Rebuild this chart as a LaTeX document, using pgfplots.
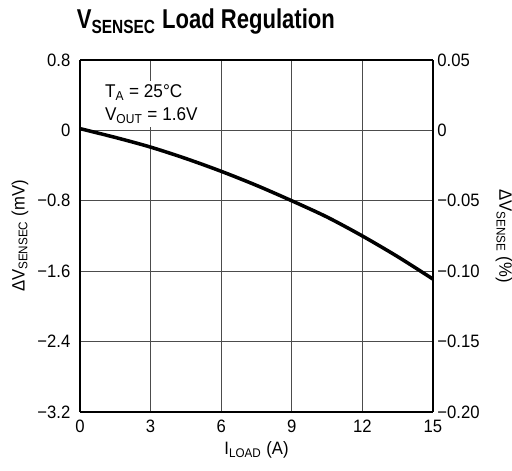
\documentclass[border=0pt]{standalone}
\usepackage{pgfplots}
\pgfplotsset{compat=1.18}
\usepackage{fontspec}
\setmainfont{Liberation Sans}[FakeStretch=0.93]
\newfontfamily\titlefont{Liberation Sans}[FakeStretch=0.81]

\pgfplotstableread{
x y
0 0.02
1.5 -0.08
3 -0.19
4.5 -0.32
6 -0.465
7.5 -0.625
9 -0.80
10.5 -0.985
12 -1.20
13.5 -1.435
15 -1.69
}\loadreg

\pgfplotsset{
  common/.style={
    width=7.06cm, height=7.04cm, scale only axis,
    xmin=0, xmax=15,
    tick style={draw=none},
    axis line style={line width=0.9pt},
  },
}

\begin{document}
\begin{tikzpicture}[font=\fontsize{10.2}{12}\selectfont]
\useasboundingbox (-1.6cm,-1.18cm) rectangle (8.64cm,8.24cm);
\begin{axis}[
    common, name=main,
    ymin=-3.2, ymax=0.8,
    xtick={0,3,6,9,12,15},
    ytick={-3.2,-2.4,-1.6,-0.8,0,0.8},
    yticklabels={−3.2,−2.4,−1.6,−0.8,0,0.8},
    xticklabels={0,3,6,9,12,15},
    grid=major,
    major grid style={black!70, line width=0.5pt},
    xlabel={I\textsubscript{LOAD} (A)},
    ylabel={ΔV\textsubscript{SENSEC} (mV)},
    xlabel style={at={(axis description cs:0.5,-0.108)}, anchor=center},
    ylabel style={at={(axis description cs:-0.17,0.5)}, anchor=center},
    yticklabel style={xshift=-2pt},
    xticklabel style={yshift=-1pt},
    axis y line*=left,
    axis x line*=bottom,
    clip=false,
]
\addplot[black, line width=2pt, smooth] table {\loadreg};
\node[fill=white, anchor=north west, align=left, inner sep=2pt,
      font=\fontsize{10.5}{13}\selectfont]
    at (axis cs:0.9,0.56) {T\textsubscript{A} = 25°C\\V\textsubscript{OUT} = 1.6V};
\end{axis}
\begin{axis}[
    common,
    ymin=-0.20, ymax=0.05,
    axis x line*=top, xtick=\empty,
    axis y line*=right,
    ytick={-0.20,-0.15,-0.10,-0.05,0,0.05},
    yticklabels={−0.20,−0.15,−0.10,−0.05,0,0.05},
    ylabel={ΔV\textsubscript{SENSE} (\%)},
    ylabel style={at={(axis description cs:1.201,0.5)}, anchor=center, rotate=180},
    yticklabel style={xshift=-1pt},
]
\end{axis}
\node[anchor=base west, inner sep=0pt, font=\titlefont\bfseries\fontsize{15.5}{18}\selectfont]
    at ([xshift=-2pt,yshift=0.62cm]main.north west) {V\textsubscript{SENSEC} Load Regulation};
\end{tikzpicture}
\end{document}
